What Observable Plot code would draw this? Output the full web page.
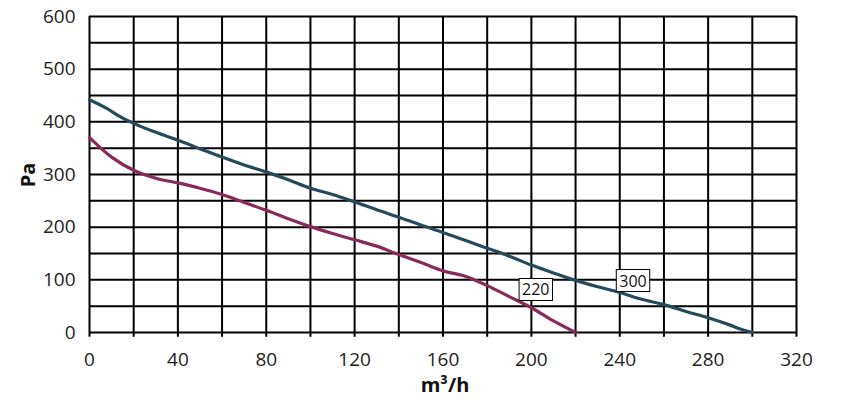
<!DOCTYPE html>
<html><head><meta charset="utf-8">
<script src="https://cdn.jsdelivr.net/npm/d3@7"></script>
<script src="https://cdn.jsdelivr.net/npm/@observablehq/plot@0.6"></script>
<style>
body{margin:0;background:#fff;}
#chart svg{display:block;}
</style>
</head><body><div id="chart"></div>
<script>
const flowX300 = [0,8,13,20,30,40,50,60,70,80,90,100,110,120,130,140,150,160,170,180,190,200,210,220,230,240,250,260,270,280,290,295,300];
const pa300 = [442,425,412,397,380,365,349,333,318,305,290,274,262,248,233,219,204,190,175,160,145,128,113,99,87,76,63,53,40,28,14,6,0];
const flowX220 = [0,10,20,30,40,50,60,70,80,90,100,110,120,130,140,150,160,170,180,190,200,210,220];
const pa220 = [370,333,308,293,284,274,262,247,232,216,201,188,176,164,148,133,117,107,89,68,47,22,0];
const xTicks = [0,40,80,120,160,200,240,280,320];
const yTicks = [0,100,200,300,400,500,600];
const xGrid = d3.range(0,321,20);
const yGrid = d3.range(0,601,50);
const labels = [{x:202,y:80,t:"220"},{x:246,y:97,t:"300"}];

const s300 = flowX300.map((x,i)=>({x,y:pa300[i]}));
const s220 = flowX220.map((x,i)=>({x,y:pa220[i]}));

const plot = Plot.plot({
  width:850, height:415,
  marginLeft:89, marginRight:54, marginTop:16, marginBottom:83,
  style:{fontFamily:"'Open Sans', sans-serif", fontSize:"19px", color:"#222", background:"#fff"},
  x:{domain:[0,320], ticks:xTicks, label:null},
  y:{domain:[0,600], ticks:yTicks, label:null},
  marks:[
    Plot.ruleX(xGrid,{y1:-9, y2:600, stroke:"#000",strokeWidth:2}),
    Plot.ruleY(yGrid,{stroke:"#000",strokeWidth:2}),
    Plot.axisX({ticks:xTicks, tickSize:0, tickPadding:20, fontSize:19, fill:"#222"}),
    Plot.axisY({ticks:yTicks, tickSize:0, tickPadding:14, fontSize:19, fill:"#222"}),
    Plot.line(s300,{x:"x",y:"y",stroke:"#244b5c",strokeWidth:3.2,curve:"monotone-x"}),
    Plot.line(s220,{x:"x",y:"y",stroke:"#8a2a5a",strokeWidth:3.2,curve:"monotone-x"}),
    Plot.text(labels,{x:"x",y:"y",text:"t",fontSize:16,fill:"#111",stroke:"none"}),
  ]
});
document.getElementById("chart").appendChild(plot);

// label boxes
const svg = d3.select(plot);
svg.selectAll("g[aria-label=text] text").each(function(){
  const bb = this.getBBox();
  d3.select(this.parentNode).insert("rect", () => this)
    .attr("x", bb.x-3).attr("y", bb.y).attr("width", bb.width+6).attr("height", bb.height)
    .attr("fill","#fff").attr("stroke","#000").attr("stroke-width",1)
    .attr("transform", this.getAttribute("transform"));
});
// axis titles
svg.append("text").attr("x",30).attr("y",175).attr("transform","rotate(-90,30,175)")
  .attr("text-anchor","middle").attr("dominant-baseline","middle")
  .style("font-family","'Open Sans', sans-serif").style("font-weight","bold").style("font-size","20px").attr("fill","#111")
  .text("Pa");
svg.append("text").attr("x",445).attr("y",392)
  .attr("text-anchor","middle")
  .style("font-family","'Open Sans', sans-serif").style("font-weight","bold").style("font-size","20px").attr("fill","#111")
  .text("m³/h");
</script>
</body></html>
